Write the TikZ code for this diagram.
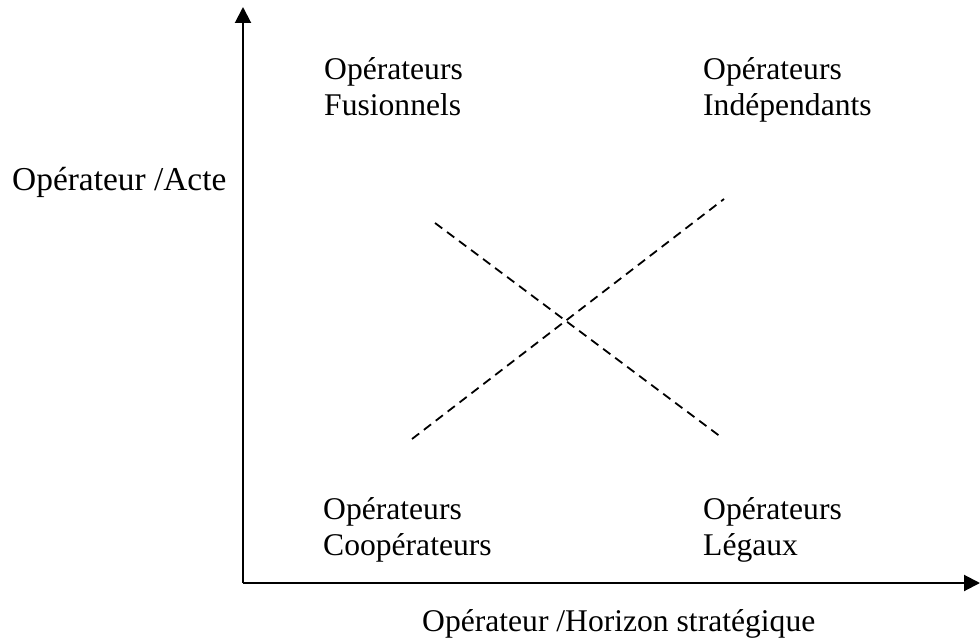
\documentclass[tikz,border=0pt]{standalone}
\usepackage{fontspec}
\setmainfont{Liberation Serif}
\usetikzlibrary{arrows.meta}
\begin{document}
\begin{tikzpicture}[x=1bp,y=-1bp,
  lbl/.style={inner sep=0pt, anchor=base west, align=left, font=\fontsize{31.6bp}{36bp}\selectfont},
  axis/.style={line width=2bp, -{Triangle[length=16bp,width=16bp]}},
  diag/.style={line width=1.8bp, dash pattern=on 9bp off 6bp}]
\useasboundingbox (0,0) rectangle (980,638);
\coordinate (O) at (243,583);
\coordinate (T) at (243,7);
\coordinate (R) at (980,583);
\draw[axis] (O) -- (T);
\draw[axis] (O) -- (R);
\coordinate (a1) at (435,223);
\coordinate (a2) at (721,437);
\coordinate (b1) at (412,439);
\coordinate (b2) at (724,199);
\draw[diag] (a1) -- (a2);
\draw[diag] (b1) -- (b2);
\node[lbl] (fus) at (324,116) {Opérateurs\\Fusionnels};
\node[lbl] (ind) at (703,116) {Opérateurs\\Indépendants};
\node[lbl] (coo) at (323,555) {Opérateurs\\Coopérateurs};
\node[lbl] (leg) at (703,555) {Opérateurs\\Légaux};
\node[lbl, font=\fontsize{33.4bp}{38bp}\selectfont] (acte) at (12,191) {Opérateur /Acte};
\node[lbl] (hor) at (422,631) {Opérateur /Horizon stratégique};
\end{tikzpicture}
\end{document}
